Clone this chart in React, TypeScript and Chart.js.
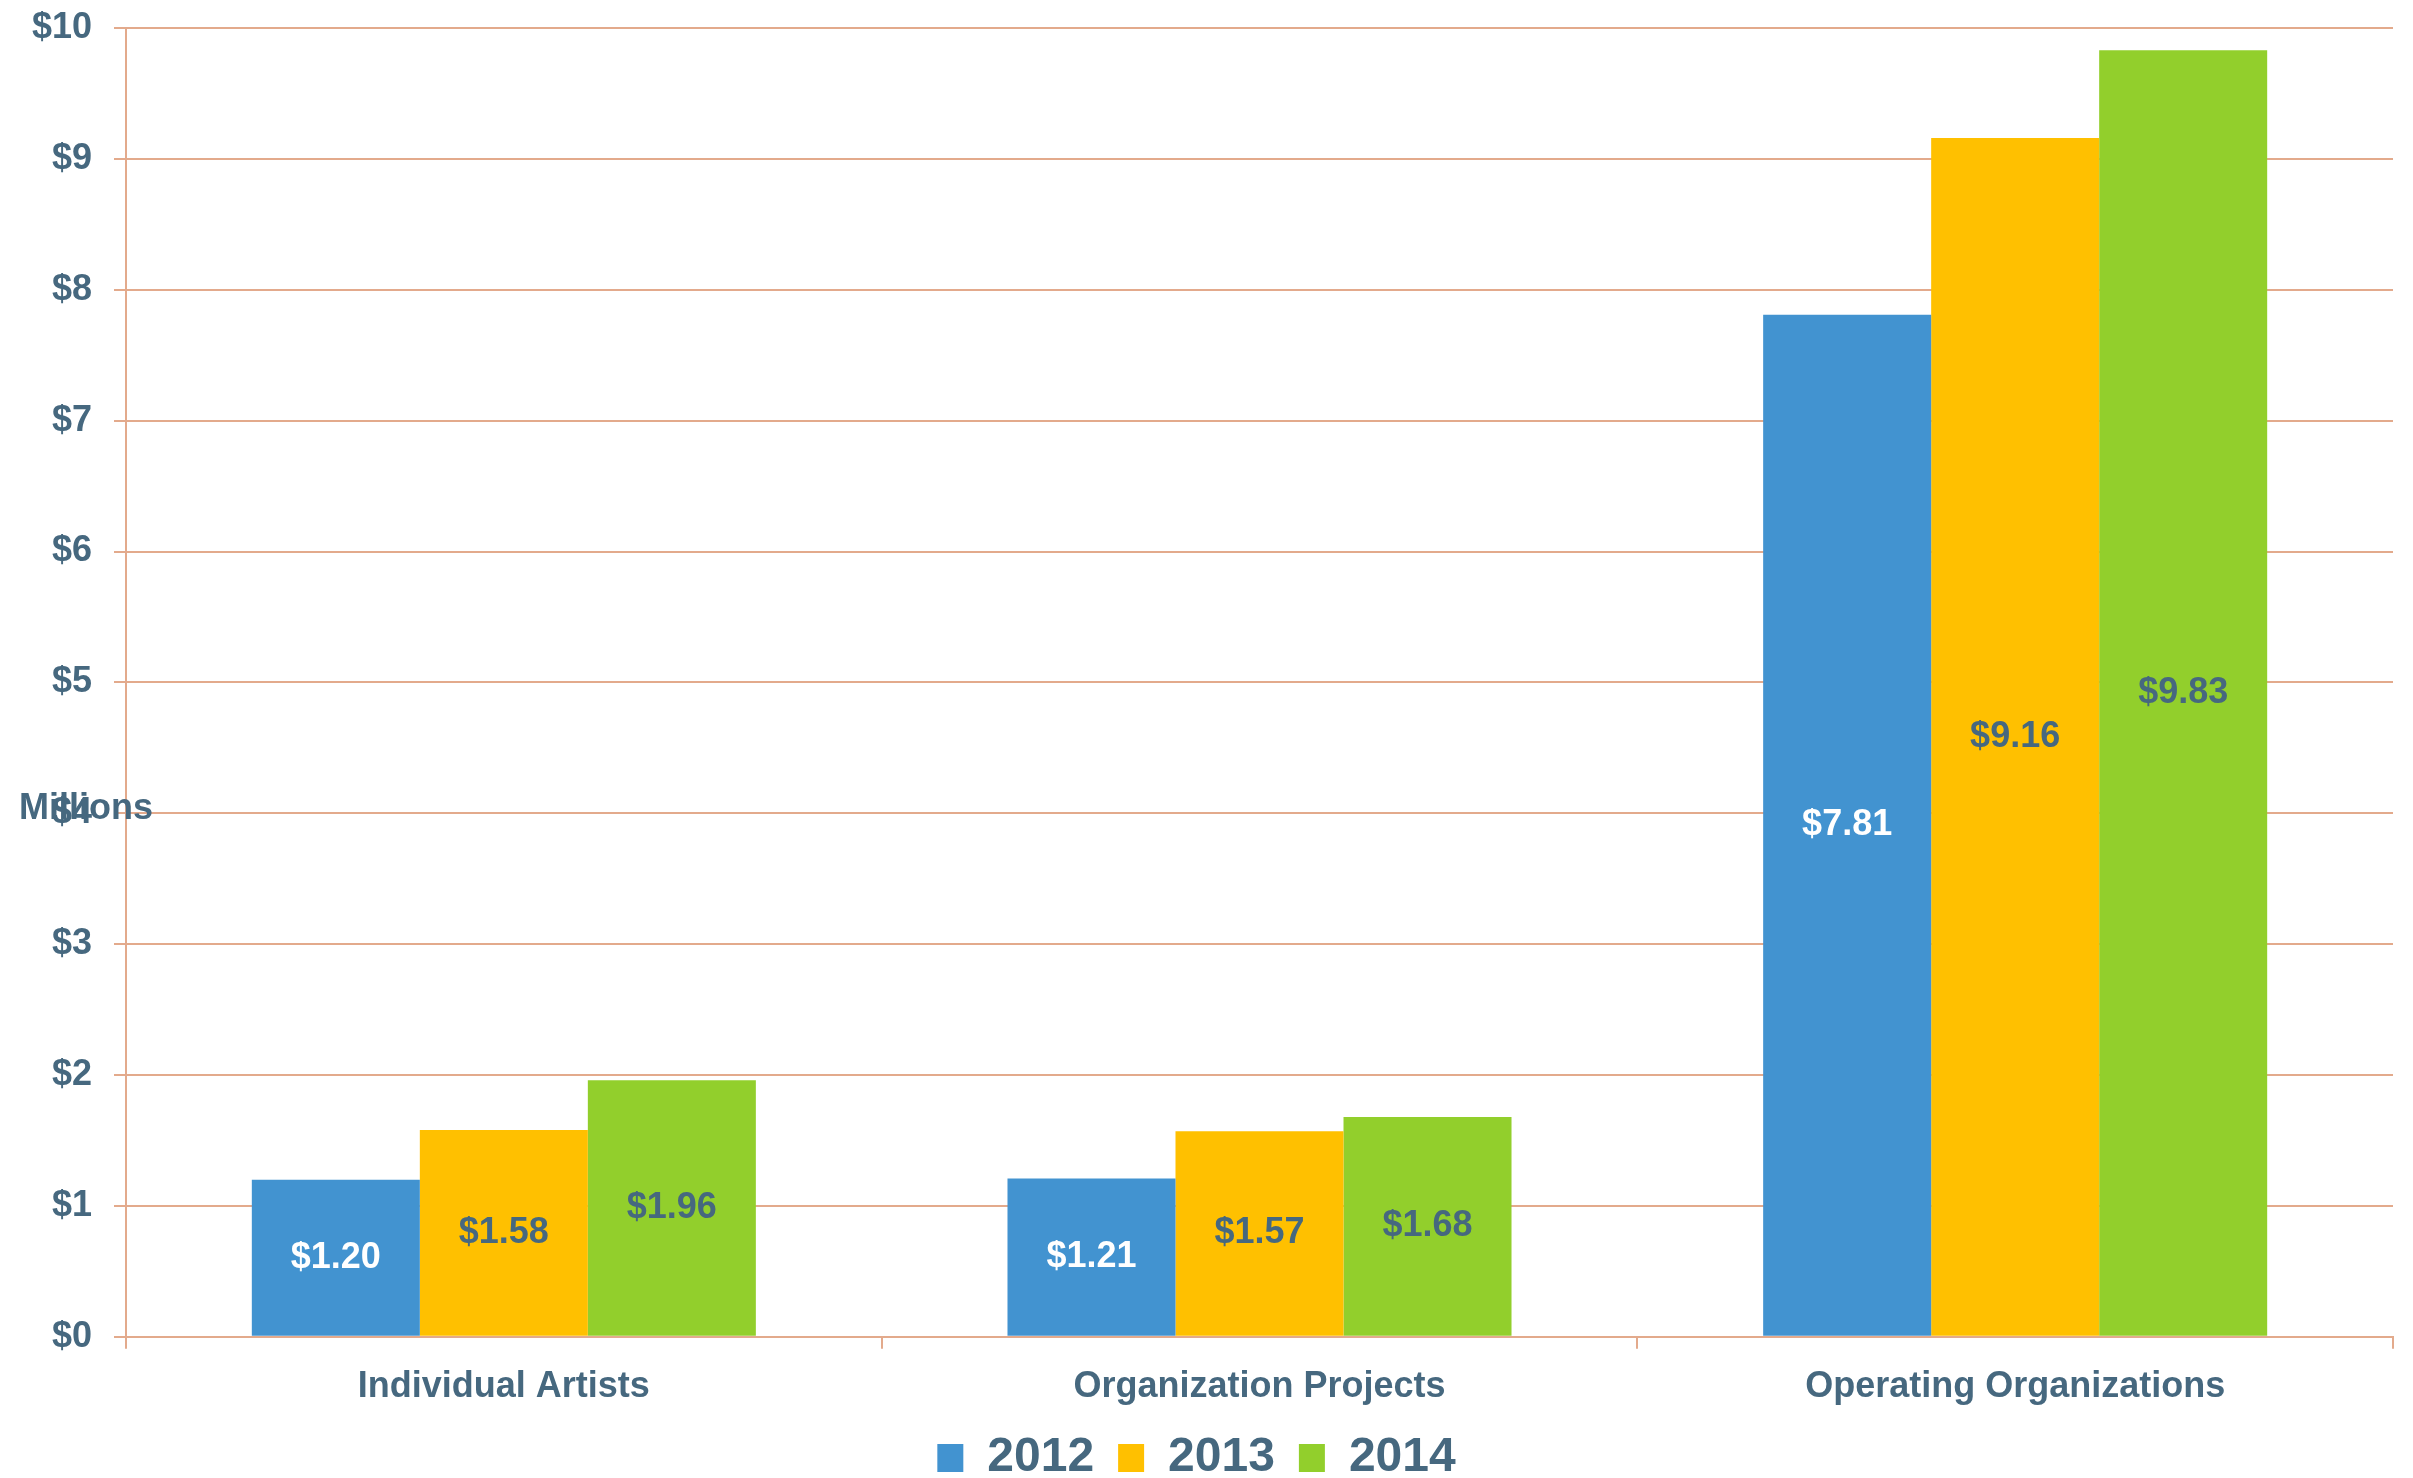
import React, { useEffect, useRef } from "react";
import { Chart, registerables } from "chart.js";

Chart.register(...registerables);

const categories = ["Individual Artists", "Organization Projects", "Operating Organizations"];
const years = ["2012", "2013", "2014"];
const values2012 = [1.2, 1.21, 7.81];
const values2013 = [1.58, 1.57, 9.16];
const values2014 = [1.96, 1.68, 9.83];
const yMin = 0;
const yMax = 10;
const yStep = 1;
const yAxisLabel = "Millions";

const COLORS = ["#4293D0", "#FFC000", "#92CF2C"];
const LABEL_COLORS = ["#FFFFFF", "#46687F", "#46687F"];
const TEXT = "#46687F";
const GRID = "#E3AA8C";
const FONT = "'Liberation Sans', Arial, Helvetica, sans-serif";

const valueLabels = {
  id: "valueLabels",
  afterDatasetsDraw(chart: any) {
    const ctx = chart.ctx;
    ctx.save();
    ctx.font = `bold 36px ${FONT}`;
    ctx.textAlign = "center";
    ctx.textBaseline = "middle";
    chart.data.datasets.forEach((ds: any, di: number) => {
      const meta = chart.getDatasetMeta(di);
      meta.data.forEach((bar: any, i: number) => {
        const v = ds.data[i];
        ctx.fillStyle = LABEL_COLORS[di];
        const y = (bar.y + bar.base) / 2;
        ctx.fillText(`$${v.toFixed(2)}`, bar.x, y);
      });
    });
    ctx.restore();
  },
};

const axisLabel = {
  id: "axisLabel",
  afterDraw(chart: any) {
    const ctx = chart.ctx;
    const yScale = chart.scales.y;
    ctx.save();
    ctx.font = `bold 36px ${FONT}`;
    ctx.fillStyle = TEXT;
    ctx.textAlign = "center";
    ctx.textBaseline = "middle";
    const y = (yScale.top + yScale.bottom) / 2 + 127;
    ctx.fillText(yAxisLabel, 86, y);
    ctx.restore();
  },
};

export default function App() {
  const ref = useRef<HTMLCanvasElement>(null);
  useEffect(() => {
    if (!ref.current) return;
    const chart = new Chart(ref.current, {
      type: "bar",
      data: {
        labels: categories,
        datasets: [
          { label: years[0], data: values2012, backgroundColor: COLORS[0] },
          { label: years[1], data: values2013, backgroundColor: COLORS[1] },
          { label: years[2], data: values2014, backgroundColor: COLORS[2] },
        ],
      },
      options: {
        animation: false,
        responsive: false,
        maintainAspectRatio: false,
        layout: { padding: { left: 0, right: 20, top: 28, bottom: -14 } },
        datasets: { bar: { categoryPercentage: 0.667, barPercentage: 1.0, borderWidth: 0 } },
        plugins: {
          tooltip: { enabled: false },
          legend: {
            position: "bottom",
            labels: {
              color: TEXT,
              font: { family: FONT, size: 48, weight: "bold" },
              boxWidth: 26,
              boxHeight: 28,
              padding: 24,
            },
          },
        },
        scales: {
          x: {
            grid: { display: true, drawOnChartArea: false, drawTicks: true, tickLength: 12, color: GRID, lineWidth: 2, offset: true },
            border: { display: true, color: GRID, width: 2 },
            ticks: { color: TEXT, font: { family: FONT, size: 36, weight: "bold" }, padding: 17 },
            afterFit: (s: any) => { s.height = s.height - 16; },
          },
          y: {
            min: yMin,
            max: yMax,
            ticks: {
              stepSize: yStep,
              color: TEXT,
              font: { family: FONT, size: 36, weight: "bold" },
              padding: 22,
              callback: (v: any) => `$${v}`,
            },
            grid: { color: GRID, lineWidth: 2, tickLength: 12 },
            border: { display: true, color: GRID, width: 2 },
            afterFit: (s: any) => { s.width = 126; s.paddingTop = 0; s.paddingBottom = 0; },
          },
        },
      },
      plugins: [valueLabels, axisLabel],
    });
    return () => chart.destroy();
  }, []);
  return (
    <div style={{ position: "absolute", left: 0, top: 0, width: 2413, height: 1478, background: "#fff" }}>
      <canvas ref={ref} width={2413} height={1478} style={{ width: 2413, height: 1478 }} />
    </div>
  );
}
